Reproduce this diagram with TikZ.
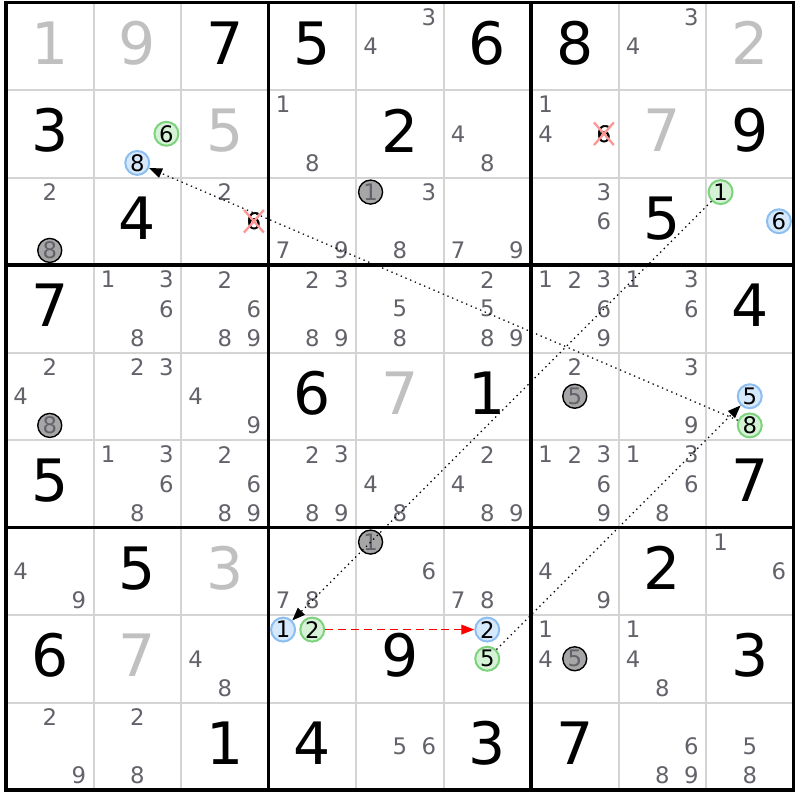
\documentclass[tikz,border=0pt]{standalone}
\usepackage{fontspec}
\setmainfont{DejaVu Sans}
\usepackage{tikz}
\usetikzlibrary{arrows.meta,shapes.misc}
\usepackage{xcolor}

\definecolor{candgray}{RGB}{98,98,106}
\definecolor{solvedgray}{RGB}{192,192,192}
\definecolor{gridgray}{RGB}{212,212,212}
\definecolor{ongreen}{RGB}{125,210,125}
\definecolor{ongreenfill}{RGB}{214,242,214}
\definecolor{offblue}{RGB}{140,190,240}
\definecolor{offbluefill}{RGB}{214,232,252}
\definecolor{elimred}{RGB}{255,150,150}

\tikzset{
  gridline/.style={gridgray, line width=0.65pt},
  boxline/.style={black, line width=1.2pt},
  given/.style={font=\fontsize{19}{19}\selectfont, text=black, inner sep=0pt, yshift=1pt},
  solved/.style={given, text=solvedgray},
  cand/.style={font=\fontsize{7.4}{7.4}\selectfont, text=candgray, inner sep=0pt},
  oncand/.style={cand, text=black, circle, draw=ongreen, fill=ongreenfill, line width=0.65pt, minimum size=7.8pt},
  offcand/.style={oncand, draw=offblue, fill=offbluefill},
  fixcand/.style={cand, circle, draw=black, fill=black!35, line width=0.45pt, minimum size=7.8pt},
  elim/.style={cand, text=black, cross out, draw=elimred, line width=0.75pt, inner sep=0.5pt},
  weaklink/.style={black, line width=0.4pt, dash pattern=on 0.45pt off 1.2pt, -{Triangle[length=4.2pt,width=3.2pt]}},
  stronglink/.style={red, line width=0.4pt, dash pattern=on 2.6pt off 1.6pt, -{Triangle[length=4.2pt,width=3.2pt]}}
}

\begin{document}
\begin{tikzpicture}[x=1cm, y=-1cm]
  \useasboundingbox (-0.0686,-0.0286) rectangle (9.0743,9.1143);

  % Cell lines
  \foreach \i in {1,2,4,5,7,8} {
    \draw[gridline] (\i,0) -- (\i,9);
    \draw[gridline] (0,\i) -- (9,\i);
  }
  % Box lines
  \foreach \i in {3,6} {
    \draw[boxline] (\i,0) -- (\i,9);
    \draw[boxline] (0,\i) -- (9,\i);
  }
  \draw[boxline] (0,0) rectangle (9,9);

  % Givens
  \foreach \r/\c/\v in {1/3/7, 1/4/5, 1/6/6, 1/7/8, 2/1/3, 2/5/2, 2/9/9, 3/2/4,
      3/8/5, 4/1/7, 4/9/4, 5/4/6, 5/6/1, 6/1/5, 6/9/7, 7/2/5, 7/8/2, 8/1/6,
      8/5/9, 8/9/3, 9/3/1, 9/4/4, 9/6/3, 9/7/7}
    \node[given] (g\r\c) at ({\c-0.5},{\r-0.5}) {\v};

  % Solved cells
  \foreach \r/\c/\v in {1/1/1, 1/2/9, 1/9/2, 2/3/5, 2/8/7, 5/5/7, 7/3/3, 8/2/7}
    \node[solved] (s\r\c) at ({\c-0.5},{\r-0.5}) {\v};

  % Candidates
  \foreach \r/\c/\ds in {1/5/{3,4}, 1/8/{3,4},
      2/2/{6,8}, 2/4/{1,8}, 2/6/{4,8}, 2/7/{1,4,6},
      3/1/{2,8}, 3/3/{2,6}, 3/4/{7,9}, 3/5/{1,3,8}, 3/6/{7,9}, 3/7/{3,6}, 3/9/{1,6},
      4/2/{1,3,6,8}, 4/3/{2,6,8,9}, 4/4/{2,3,8,9}, 4/5/{5,8}, 4/6/{2,5,8,9},
      4/7/{1,2,3,6,9}, 4/8/{1,3,6},
      5/1/{2,4,8}, 5/2/{2,3}, 5/3/{4,9}, 5/7/{2,5}, 5/8/{3,9}, 5/9/{5,8},
      6/2/{1,3,6,8}, 6/3/{2,6,8,9}, 6/4/{2,3,8,9}, 6/5/{4,8}, 6/6/{2,4,8,9},
      6/7/{1,2,3,6,9}, 6/8/{1,3,6,8},
      7/1/{4,9}, 7/4/{7,8}, 7/5/{1,6}, 7/6/{7,8}, 7/7/{4,9}, 7/9/{1,6},
      8/3/{4,8}, 8/4/{1,2}, 8/6/{2,5}, 8/7/{1,4,5}, 8/8/{1,4,8},
      9/1/{2,9}, 9/2/{2,8}, 9/5/{5,6}, 9/8/{6,8,9}, 9/9/{5,8}} {
    \foreach \d in \ds {
      \pgfmathsetmacro{\cx}{\c-1+(mod(\d-1,3)+0.5)/3}
      \pgfmathsetmacro{\cy}{\r-1+(floor((\d-1)/3)+0.5)/3}
      \node[cand] (n\r\c\d) at (\cx,\cy) {\d};
    }
  }

  % Chain candidates
  \node[oncand] (on226) at (n226) {6};
  \node[offcand] (off228) at (n228) {8};
  \node[oncand] (on391) at (n391) {1};
  \node[offcand] (off396) at (n396) {6};
  \node[offcand] (off595) at (n595) {5};
  \node[oncand] (on598) at (n598) {8};
  \node[offcand] (off841) at (n841) {1};
  \node[oncand] (on842) at (n842) {2};
  \node[offcand] (off862) at (n862) {2};
  \node[oncand] (on865) at (n865) {5};

  % Fixed candidates
  \node[fixcand] (fx318) at (n318) {8};
  \node[fixcand] (fx518) at (n518) {8};
  \node[fixcand] (fx351) at (n351) {1};
  \node[fixcand] (fx751) at (n751) {1};
  \node[fixcand] (fx575) at (n575) {5};
  \node[fixcand] (fx875) at (n875) {5};

  % Eliminations
  \node[elim] (x276) at (n276) {6};
  \node[elim] (x336) at (n336) {6};

  % Links
  \draw[weaklink] (on598) -- (off228);
  \draw[weaklink] (on391) -- (off841);
  \draw[weaklink] (on865) -- (off595);
  \draw[stronglink] (on842) -- (off862);
\end{tikzpicture}
\end{document}
